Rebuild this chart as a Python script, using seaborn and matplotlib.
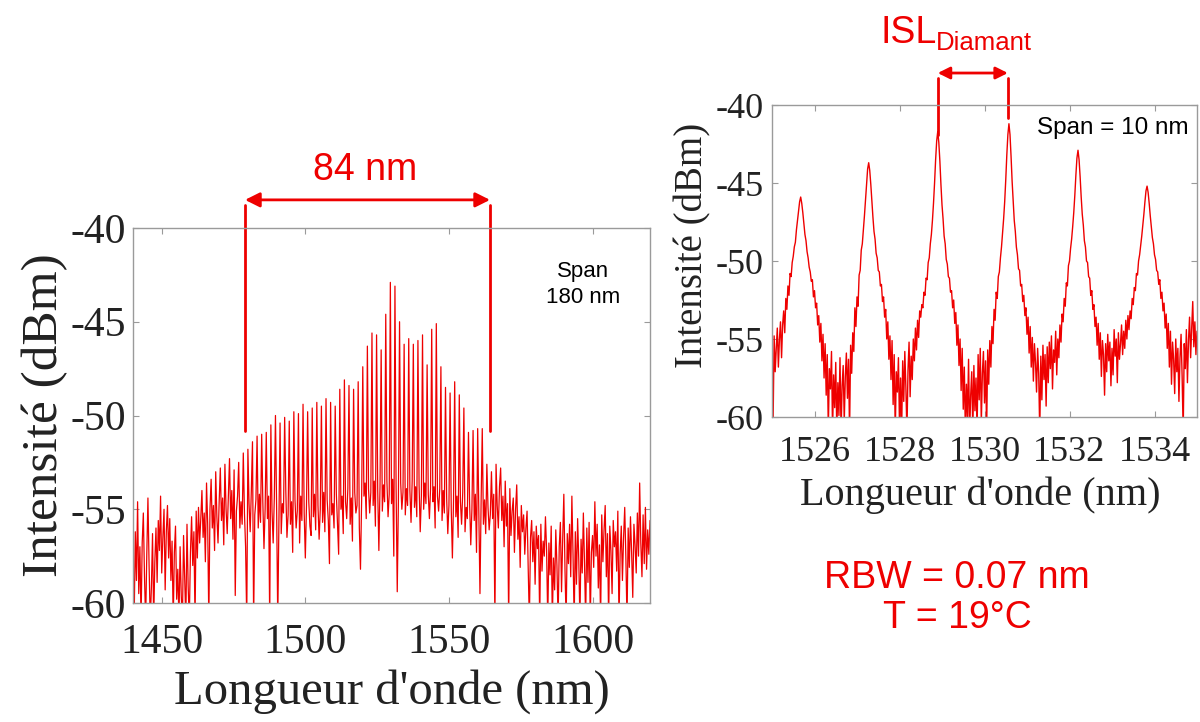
import numpy as np
import pandas as pd
import matplotlib
matplotlib.use("Agg")
import matplotlib.pyplot as plt
import seaborn as sns

# ---------------- data ----------------
# Left panel: broad spectrum, span 180 nm, sampled every 0.4 nm (1440 -> 1620 nm)
wide_start, wide_end = 1440.0, 1620.0
wide_intensity = [
    -57.5, -61, -56.2, -58.8, -54.6, -59.5, -57.0, -61, -56.8, -55.2, -58.6, -61, -57.4, -54.4, -58.0, -61, -59.2, -56.3, -61, -57.8,
    -56.0, -58.9, -55.6, -57.2, -54.3, -58.4, -56.5, -55.0, -59.3, -56.2, -54.8, -57.6, -55.5, -58.8, -56.7, -61, -57.3, -55.9, -59.8, -58.2,
    -61, -57.0, -59.6, -61, -56.4, -58.7, -61, -55.8, -59.1, -61, -57.3, -55.4, -58.0, -56.2, -61, -55.1, -57.6, -54.9, -56.8, -55.5,
    -54.0, -56.5, -55.2, -57.8, -53.6, -55.8, -61, -55.0, -53.4, -56.0, -54.8, -57.2, -53.0, -55.4, -56.8, -54.6, -52.8, -55.6, -54.4, -56.9,
    -52.6, -55.0, -56.3, -54.2, -52.3, -55.5, -54.0, -56.6, -52.9, -59.6, -55.1, -54.3, -52.5, -56.0, -54.6, -55.8, -52.0, -55.2, -57.0, -61,
    -51.8, -54.7, -56.2, -54.0, -51.4, -61, -55.3, -54.5, -51.1, -56.0, -54.2, -55.7, -51.0, -54.6, -57.1, -55.0, -50.9, -55.5, -54.3, -61,
    -50.5, -55.1, -56.8, -54.4, -50.0, -54.9, -61, -55.6, -50.4, -56.3, -54.7, -55.2, -50.1, -54.0, -56.5, -55.3, -50.3, -55.8, -54.6, -57.3,
    -49.8, -54.5, -56.0, -55.1, -49.9, -56.8, -54.3, -55.6, -49.4, -55.2, -57.6, -54.8, -49.8, -54.6, -55.9, -56.4, -49.6, -55.4, -54.2, -56.1,
    -49.3, -54.8, -56.6, -55.0, -49.5, -55.7, -54.1, -56.2, -49.1, -54.5, -55.6, -57.9, -49.3, -55.3, -54.7, -56.0, -49.5, -54.2, -55.8, -57.4,
    -48.6, -55.0, -54.3, -56.3, -48.1, -54.6, -55.5, -53.9, -48.4, -55.8, -54.4, -56.7, -48.6, -54.1, -55.2, -54.8, -48.2, -56.0, -58.2, -54.5,
    -47.4, -54.3, -53.6, -55.5, -46.3, -53.9, -55.2, -54.1, -45.6, -54.8, -53.5, -55.9, -45.7, -54.0, -57.2, -53.8, -46.5, -55.1, -53.7, -54.6,
    -44.6, -53.5, -55.4, -54.2, -42.9, -54.7, -53.4, -57.5, -43.1, -53.8, -59.4, -54.6, -45.0, -53.6, -55.0, -54.1, -46.2, -55.3, -53.9, -54.8,
    -45.9, -54.0, -55.7, -53.5, -46.2, -54.9, -53.8, -55.4, -46.0, -53.7, -56.2, -54.3, -45.7, -55.0, -53.6, -54.7, -47.3, -54.2, -55.5, -53.9,
    -45.4, -54.6, -53.8, -56.0, -45.1, -54.3, -55.1, -53.9, -47.4, -55.6, -54.0, -55.2, -48.5, -54.4, -56.3, -54.8, -48.8, -55.0, -57.6, -54.5,
    -48.2, -55.4, -54.3, -56.5, -48.9, -54.6, -55.8, -54.1, -49.6, -56.2, -54.9, -55.5, -50.9, -54.7, -56.9, -55.0, -50.8, -55.6, -54.2, -57.3,
    -50.7, -55.2, -59.5, -54.6, -50.7, -55.8, -54.5, -56.3, -52.6, -54.9, -56.1, -55.3, -53.0, -55.5, -54.2, -61, -52.6, -54.8, -56.0, -53.8,
    -52.8, -55.6, -54.3, -57.0, -53.5, -55.9, -54.7, -61, -53.9, -56.4, -55.1, -54.4, -57.3, -55.0, -53.7, -56.6, -55.4, -58.1, -54.8, -56.2,
    -55.3, -57.4, -56.0, -55.1, -58.2, -61, -56.5, -55.6, -57.8, -56.2, -59.0, -55.9, -57.1, -56.4, -61, -55.8, -58.3, -56.7, -57.5, -55.4,
    -57.2, -61, -56.8, -58.5, -55.9, -61, -57.6, -59.3, -56.1, -58.0, -61, -57.0, -55.7, -59.4, -56.6, -54.2, -58.2, -61, -56.3, -57.9,
    -55.8, -58.6, -54.3, -57.4, -61, -56.2, -59.0, -55.5, -57.7, -61, -56.6, -58.4, -55.2, -57.9, -61, -56.0, -58.9, -55.7, -61, -57.3,
    -56.4, -58.1, -54.6, -57.5, -55.8, -59.2, -56.9, -61, -55.3, -57.8, -56.1, -54.8, -58.6, -56.3, -61, -55.9, -57.2, -59.5, -55.6, -57.0,
    -56.2, -58.3, -55.1, -61, -57.4, -55.9, -58.8, -56.5, -54.9, -57.6, -61, -56.0, -58.1, -55.4, -57.3, -59.7, -55.8, -56.9, -58.4, -55.2,
    -57.5, -53.6, -56.8, -58.6, -55.3, -57.9, -54.9, -58.2, -56.1, -57.4, -55.6,
]

# Right panel: zoom, span 10 nm, sampled every 0.025 nm (1525 -> 1535 nm)
zoom_start, zoom_end = 1525.0, 1535.0
zoom_intensity = [
    -55.2, -60.5, -54.8, -57.1, -55.6, -54.3, -56.8, -55.0, -53.9, -56.2, -54.1, -53.2, -54.6, -52.4, -53.1, -51.6, -52.2, -50.8, -51.0, -50.1,
    -49.7, -49.1, -48.8, -48.0, -47.4, -46.8, -46.2, -45.9, -46.3, -46.9, -47.6, -48.3, -48.7, -49.4, -49.8, -50.4, -50.7, -51.3, -51.2, -52.3,
    -51.9, -53.0, -52.7, -54.1, -53.5, -55.2, -54.0, -56.4, -54.7, -57.5, -55.3, -58.6, -56.0, -60.8, -56.9, -58.2, -55.8, -61, -57.3, -59.4,
    -56.5, -61, -57.8, -59.9, -56.2, -61, -58.0, -56.7, -60.3, -57.4, -55.9, -58.8, -56.3, -61, -55.4, -57.2, -54.6, -55.8, -53.0, -54.2,
    -52.3, -52.9, -50.9, -50.6, -49.3, -48.9, -48.0, -47.1, -46.1, -45.0, -44.1, -43.7, -44.2, -45.1, -46.2, -47.2, -48.1, -48.6, -49.5, -49.8,
    -50.6, -50.7, -51.6, -51.5, -52.6, -52.3, -53.6, -53.1, -55.0, -53.9, -56.3, -54.8, -57.6, -55.1, -59.2, -56.0, -61, -57.1, -58.4, -56.2,
    -60.6, -57.5, -61, -56.4, -59.0, -55.8, -58.1, -61, -57.0, -55.2, -58.7, -56.1, -57.6, -55.0, -56.4, -54.3, -55.7, -53.8, -54.9, -53.2,
    -53.6, -52.8, -53.0, -52.0, -52.2, -51.1, -51.2, -50.1, -49.8, -48.9, -48.3, -47.4, -46.3, -45.0, -43.5, -42.3, -41.7, -42.4, -43.6, -45.1,
    -46.4, -47.3, -48.4, -48.9, -49.9, -50.2, -51.0, -51.1, -52.0, -51.9, -53.0, -52.5, -54.0, -53.3, -55.4, -54.1, -56.7, -55.0, -58.3, -55.6,
    -59.5, -56.8, -61, -57.9, -60.2, -56.3, -61, -58.6, -57.1, -61, -56.7, -59.6, -57.5, -61, -56.0, -58.9, -55.6, -60.4, -57.2, -55.8,
    -59.1, -56.4, -61, -55.7, -57.9, -55.1, -56.8, -54.2, -55.3, -53.1, -53.8, -52.0, -52.4, -51.0, -50.7, -49.8, -49.1, -48.2, -47.3, -46.2,
    -44.8, -43.2, -41.9, -41.2, -41.9, -43.3, -44.9, -46.2, -47.4, -48.1, -49.1, -49.6, -50.5, -50.6, -51.6, -51.5, -52.6, -52.2, -53.5, -53.0,
    -54.7, -53.6, -55.9, -54.2, -56.8, -54.9, -57.7, -55.3, -56.5, -58.4, -55.6, -57.2, -61, -56.1, -58.9, -55.4, -57.6, -56.0, -59.3, -55.5,
    -57.8, -55.2, -56.9, -54.8, -58.2, -55.7, -56.5, -54.5, -57.3, -55.0, -56.2, -54.1, -55.2, -53.4, -53.9, -52.4, -52.9, -51.4, -51.6, -50.3,
    -50.0, -49.2, -48.6, -47.8, -46.9, -45.8, -44.5, -43.4, -42.9, -43.5, -44.6, -45.9, -47.0, -47.7, -48.7, -49.1, -50.0, -50.1, -51.0, -51.1,
    -52.2, -51.9, -53.1, -52.8, -54.2, -53.6, -55.4, -54.0, -56.3, -54.6, -57.4, -55.1, -56.0, -58.6, -55.3, -57.1, -54.7, -56.4, -55.2, -58.0,
    -55.6, -57.3, -54.4, -56.1, -55.0, -57.8, -54.6, -56.3, -55.3, -54.1, -56.0, -54.5, -55.6, -53.8, -55.0, -53.5, -54.4, -53.2, -53.7, -52.4,
    -52.8, -51.7, -51.9, -50.8, -50.9, -50.0, -49.6, -49.0, -48.4, -47.7, -47.0, -46.2, -45.5, -45.2, -45.6, -46.3, -47.1, -47.8, -48.5, -48.9,
    -49.6, -49.9, -50.6, -50.7, -51.5, -51.2, -52.4, -52.0, -53.2, -52.7, -54.3, -53.4, -55.6, -54.0, -56.8, -54.5, -57.9, -55.2, -56.3, -58.5,
    -55.0, -57.1, -55.6, -59.0, -56.2, -54.7, -57.4, -61, -55.3, -56.9, -54.4, -57.8, -55.1, -53.6, -56.2, -54.3, -52.6, -55.5, -53.9, -56.0,
    -54.5,
]

wide_xticks = [1450, 1500, 1550, 1600]
zoom_xticks = [1526, 1528, 1530, 1532, 1534]
y_ticks = [-60, -55, -50, -45, -40]
y_range = (-60, -40)

span_lo, span_hi = 1479.0, 1564.3          # "84 nm" markers
isl_lo, isl_hi = 1528.9, 1530.55           # ISL markers (two central peaks)

wide_df = pd.DataFrame({"wl": np.linspace(wide_start, wide_end, len(wide_intensity)),
                        "dbm": wide_intensity})
zoom_df = pd.DataFrame({"wl": np.linspace(zoom_start, zoom_end, len(zoom_intensity)),
                        "dbm": zoom_intensity})

# ---------------- style ----------------
sns.set_theme(style="white")
plt.rcParams["font.family"] = ["Liberation Serif", "DejaVu Serif"]
plt.rcParams["axes.unicode_minus"] = False

RED = "#ee0000"
SPINE = "#9a9a9a"
TXT = "#222222"

fig = plt.figure(figsize=(12, 7.22), dpi=100)
axL = fig.add_axes([133 / 1200, 1 - 603 / 722, 517 / 1200, 375 / 722])
axR = fig.add_axes([772 / 1200, 1 - 417 / 722, 425 / 1200, 312 / 722])

sns.lineplot(data=wide_df, x="wl", y="dbm", ax=axL, color=RED, linewidth=0.9,
             estimator=None, sort=False)
sns.lineplot(data=zoom_df, x="wl", y="dbm", ax=axR, color=RED, linewidth=1.0,
             estimator=None, sort=False)


def style_axes(ax, xlim, xticks, tick_size, xlab_size, ylab_size, pad_x, pad_y):
    ax.set_xlim(*xlim)
    ax.set_ylim(*y_range)
    ax.set_xticks(xticks)
    ax.set_yticks(y_ticks)
    ax.set_xticklabels([str(t) for t in xticks])
    ax.set_yticklabels([str(t) for t in y_ticks])
    for s in ax.spines.values():
        s.set_visible(True)
        s.set_color(SPINE)
        s.set_linewidth(1.0)
    ax.tick_params(axis="both", which="both", direction="in", length=4, width=0.8,
                   color=SPINE, top=True, right=True, bottom=True, left=True,
                   labelsize=tick_size, labelcolor=TXT)
    ax.tick_params(axis="x", pad=pad_x)
    ax.tick_params(axis="y", pad=pad_y)
    ax.set_xlabel("Longueur d'onde (nm)", fontsize=xlab_size, color=TXT)
    ax.set_ylabel("Intensité (dBm)", fontsize=ylab_size, color=TXT)
    ax.grid(False)


style_axes(axL, (wide_start, wide_end), wide_xticks, 30, 35, 37, 15, 5)
style_axes(axR, (zoom_start, zoom_end), zoom_xticks, 26, 29, 28, 14, 6)
axL.xaxis.set_label_coords(0.5, -0.175)
axL.yaxis.set_label_coords(-0.125, 0.5)
axR.xaxis.set_label_coords(0.49, -0.19)
axR.yaxis.set_label_coords(-0.142, 0.55)

SANS = ["Liberation Sans", "DejaVu Sans"]

# ---- left annotation: 84 nm ----
for xv in (span_lo, span_hi):
    axL.plot([xv, xv], [-38.75, -50.8], color=RED, lw=2.0, clip_on=False)
axL.annotate("", xy=(span_lo, -38.5), xytext=(span_hi, -38.5),
             arrowprops=dict(arrowstyle="<|-|>", color=RED, lw=2.0,
                             mutation_scale=22, shrinkA=0, shrinkB=0),
             annotation_clip=False)
axL.text((span_lo + span_hi) / 2 - 0.8, -37.85, "84 nm", color=RED, fontsize=27,
         family=SANS, ha="center", va="bottom")
axL.text(1596.7, -43.0, "Span\n180 nm", color="black", fontsize=16, family=SANS,
         ha="center", va="center", linespacing=1.3)

# ---- right annotation: ISL ----
for xv, yb in ((isl_lo, -41.9), (isl_hi, -40.85)):
    axR.plot([xv, xv], [-38.25, yb], color=RED, lw=2.0, clip_on=False)
axR.annotate("", xy=(isl_lo, -37.95), xytext=(isl_hi, -37.95),
             arrowprops=dict(arrowstyle="<|-|>", color=RED, lw=2.0,
                             mutation_scale=18, shrinkA=0, shrinkB=0),
             annotation_clip=False)
fig.text(881 / 1200, 1 - 43 / 722, "ISL", color=RED, fontsize=27, family=SANS,
         ha="left", va="baseline")
fig.text(936 / 1200, 1 - 50 / 722, "Diamant", color=RED, fontsize=18.5, family=SANS,
         ha="left", va="baseline")
axR.text(1534.8, -41.5, "Span = 10 nm", color="black", fontsize=17.5, family=SANS,
         ha="right", va="center")

fig.text(957 / 1200, 1 - 598 / 722, "RBW = 0.07 nm\nT = 19°C", color=RED,
         fontsize=27, family=SANS, ha="center", va="center", linespacing=1.15)

fig.savefig("out.png", dpi=100)
